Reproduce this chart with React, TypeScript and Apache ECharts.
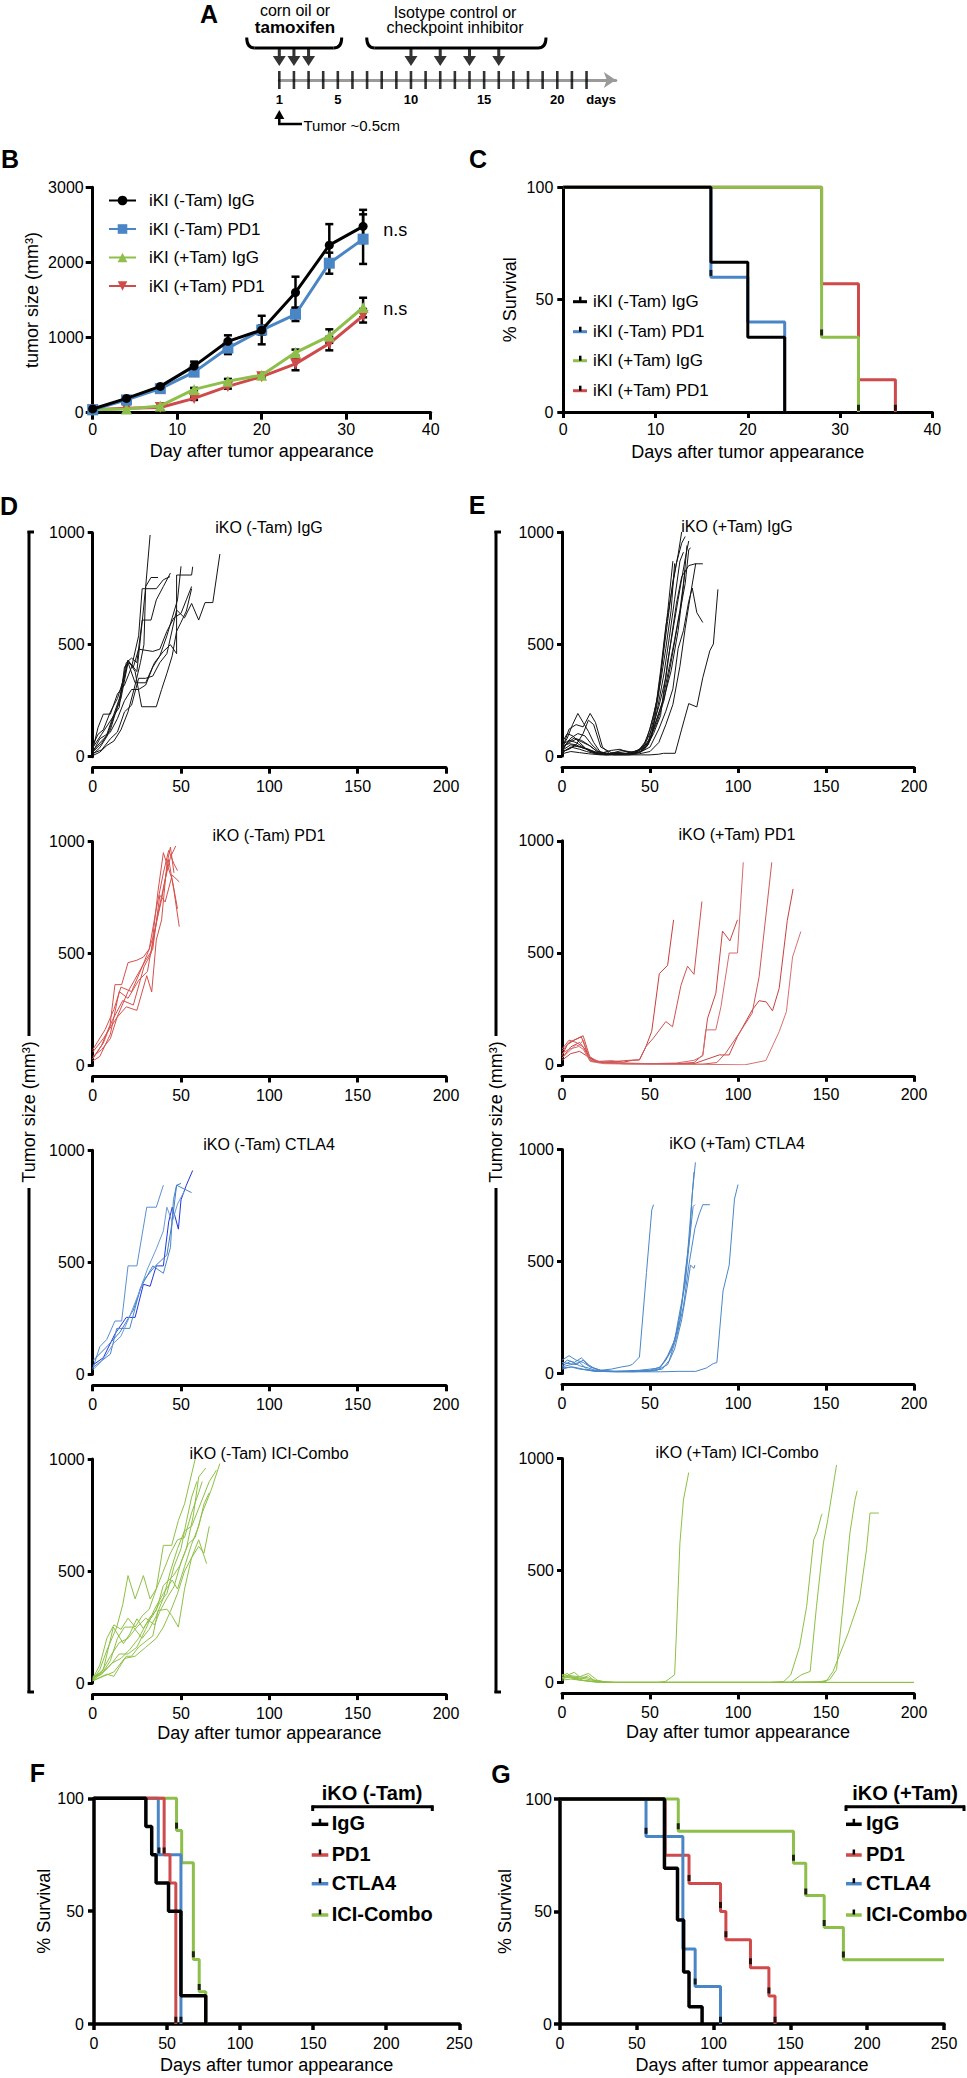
import React, { useEffect, useRef } from 'react';
import * as echarts from 'echarts';

const FONT = '"Liberation Sans", Arial, Helvetica, sans-serif';
const BLACK = '#000000';
const BLUE = '#4a86c6';
const GREEN = '#8dbf4a';
const RED = '#cf4a4a';

// ---------------- Panel A (schedule) ----------------
const timelineDays = [1, 2, 3, 4, 5, 6, 7, 8, 9, 10, 11, 12, 13, 14, 15, 16, 17, 18, 19, 20, 21, 22];
const timelineLabelDays = [1, 5, 10, 15, 20];
const tamoxifenDays = [1, 2, 3];
const antibodyDays = [10, 12, 14, 16];

// ---------------- Panel B (mean tumor size) ----------------
const bDays = [0, 4, 8, 12, 16, 20, 24, 28, 32];
const bLabels = ['iKI (-Tam) IgG', 'iKI (-Tam) PD1', 'iKI (+Tam) IgG', 'iKI (+Tam) PD1'];
const bNegIgG = [50, 190, 350, 620, 950, 1100, 1600, 2230, 2480];
const bNegIgGSem = [0, 20, 20, 60, 80, 190, 210, 280, 220];
const bNegPD1 = [40, 170, 320, 540, 860, 1100, 1310, 1990, 2310];
const bNegPD1Sem = [0, 20, 20, 40, 80, 60, 90, 140, 330];
const bPosIgG = [40, 50, 90, 310, 420, 500, 800, 1020, 1400];
const bPosIgGSem = [0, 0, 0, 20, 30, 20, 40, 90, 130];
const bPosPD1 = [40, 60, 70, 190, 350, 480, 650, 920, 1290];
const bPosPD1Sem = [0, 0, 0, 20, 30, 20, 85, 90, 90];

// ---------------- Panel C (survival) ----------------
const cNegIgG = [[0, 100], [16, 66.7], [20, 33.3], [24, 0]];
const cNegPD1 = [[0, 100], [16, 60], [20, 40], [24, 0]];
const cPosIgG = [[0, 100], [28, 33.3], [32, 0]];
const cPosPD1 = [[0, 100], [28, 57.1], [32, 14.3], [36, 0]];
const cCensor = [[16, 61], [28, 34.5], [32, 1], [36, 1]];

// ---------------- Panel D (iKO -Tam individual curves) ----------------
const dIgGCurves = [
  [[0, 10], [4, 40], [8, 90], [12, 180], [16, 260], [20, 420], [22, 410], [25, 380], [28, 600], [30, 760], [32.5, 990]],
  [[0, 30], [3, 130], [6, 190], [10, 190], [14, 280], [18, 320], [22, 400], [26, 540], [28, 750], [36, 750], [40, 790], [43.8, 804]],
  [[0, 20], [5, 60], [10, 120], [15, 250], [19, 420], [22, 440], [25, 420], [28, 610], [33, 610], [36, 700], [40, 760], [44, 820]],
  [[0, 40], [5, 100], [10, 160], [15, 220], [18, 400], [20, 420], [24, 330], [30, 330], [35, 420], [40, 470], [44, 500], [47.5, 460], [47.5, 811], [56, 811], [56.6, 848]],
  [[0, 15], [5, 30], [10, 80], [14, 110], [18, 200], [22, 230], [26, 350], [30, 350], [34, 360], [38, 420], [42, 460], [47.5, 655], [52, 620], [56, 684], [60, 610], [63.6, 688], [68, 688], [72, 905]],
  [[0, 20], [4, 80], [8, 100], [12, 190], [16, 280], [20, 431], [24, 380], [27.7, 223], [36, 223], [39, 300], [42, 372], [45, 450], [47.5, 560], [50, 600], [53, 650], [56, 750]],
  [[0, 50], [3, 100], [6, 120], [10, 200], [14, 260], [18, 360], [20, 430], [23, 400], [26, 480], [34, 470], [38, 480], [42, 560], [46, 620], [50, 640], [53, 700], [56, 760]],
  [[0, 5], [4, 20], [8, 50], [12, 70], [16, 120], [20, 200], [24, 320], [27, 420], [29, 500], [30, 760], [33, 800], [37, 800]],
  [[0, 25], [5, 70], [10, 110], [14, 170], [18, 250], [22, 300], [26, 300], [30, 320], [34, 400], [38, 450], [42, 540], [45, 620], [48, 700], [50, 850]],
];
const dPD1Curves = [
  [[0, 30], [5, 90], [9.8, 180], [12.6, 361], [16.4, 361], [20, 459], [25, 470], [28.7, 484], [32, 520], [34, 570], [37, 780], [40, 950], [42, 900], [44, 975], [46, 860]],
  [[0, 60], [6, 120], [13.6, 213], [19, 262], [25, 246], [30.6, 401], [33.4, 328], [36, 560], [39, 650], [42, 900], [45, 830], [48, 700]],
  [[0, 20], [4, 40], [10, 140], [15, 330], [20, 300], [26, 380], [31, 420], [35, 600], [39, 740], [43, 920], [46, 780], [49, 620]],
  [[0, 70], [7, 160], [12, 250], [16, 350], [22, 330], [28, 440], [32, 520], [36, 700], [40, 860], [43, 960], [46, 900], [48, 870]],
  [[0, 40], [5, 70], [10, 120], [14, 220], [20, 330], [25, 400], [30, 470], [34, 520], [38, 760], [41, 730], [45, 850], [49, 820]],
  [[0, 30], [6, 100], [11, 200], [17, 290], [23, 270], [29, 440], [33, 500], [37, 680], [41, 830], [44, 930], [47, 980]],
];
const dCTLA4Curves = [
  [[0, 25], [4, 123], [8, 156], [12.6, 238], [16.4, 238], [20, 484], [25, 484], [30.6, 746], [36, 746], [40, 844]],
  [[0, 41], [6, 74], [12.6, 180], [19, 254], [24, 254], [28.7, 402], [32.5, 393], [36, 484], [40, 484], [43, 680], [45, 746], [46.6, 705], [48.5, 648], [50, 779], [53, 844], [56.6, 910]],
  [[0, 30], [5, 60], [10, 90], [13.6, 205], [21, 205], [27, 385], [34, 484], [40, 451], [44, 566], [45.7, 779], [47.5, 844], [56, 811]],
  [[0, 60], [8, 123], [15.5, 189], [23, 287], [28.7, 418], [35, 480], [42, 533], [45, 680], [47.5, 844], [50, 852]],
  [[0, 20], [4, 50], [8, 90], [12, 140], [16, 170], [21, 260], [26, 360], [31, 470], [36, 560], [40, 640], [42, 746], [45, 680], [48, 760], [52, 820]],
];
const dComboCurves = [
  [[0, 15], [4, 60], [8, 146], [13.6, 250], [17, 350], [20, 480], [24, 376], [28.7, 480], [32.5, 376], [36, 421], [40, 615], [44.7, 615], [48.5, 726], [52, 800], [55, 900], [58, 1000]],
  [[0, 20], [6, 60], [11.7, 250], [17.4, 176], [21, 220], [25, 287], [28.7, 243], [32.5, 295], [36, 324], [40, 436], [45.7, 480], [49.4, 525], [53, 600], [57, 750], [60, 920], [64, 960]],
  [[0, 10], [8, 40], [12, 30], [15, 70], [19, 120], [22, 120], [26, 161], [30.6, 190], [34, 210], [37, 324], [42, 330], [44.7, 302], [48.5, 250], [52, 420], [56, 560], [60, 640], [64.5, 533]],
  [[0, 25], [5, 40], [10, 100], [14, 200], [18, 250], [23, 250], [28, 200], [32, 240], [36, 300], [40, 380], [44, 500], [48, 600], [52, 680], [56, 700], [60, 780], [66, 900], [70, 950]],
  [[0, 10], [5, 50], [10, 120], [15, 180], [20, 200], [25, 250], [30, 290], [35, 260], [38, 320], [42, 380], [46, 430], [50, 540], [54, 620], [58, 650], [62, 760], [67, 860], [72, 980]],
  [[0, 30], [6, 50], [11, 90], [16, 110], [21, 150], [26, 200], [30, 260], [34, 300], [38, 360], [42, 400], [46, 520], [50, 600], [53, 720], [56, 830], [59, 900]],
  [[0, 15], [5, 40], [10, 80], [15, 130], [20, 130], [25, 160], [30, 240], [35, 330], [40, 400], [45, 460], [48, 420], [52, 520], [56, 620], [60, 700], [63, 800], [66, 850]],
  [[0, 20], [4, 80], [8, 200], [12, 260], [16, 240], [20, 290], [24, 250], [28, 300], [32, 330], [36, 420], [40, 500], [44, 580], [48, 640], [52, 650], [56, 760], [60, 850], [62, 900]],
  [[0, 10], [6, 30], [12, 50], [18, 110], [24, 120], [30, 160], [36, 200], [40, 250], [44, 320], [48, 400], [52, 500], [56, 560], [60, 610], [63, 580], [66, 700]],
];

// ---------------- Panel E (iKO +Tam individual curves) ----------------
const eIgGCurves = [
  [[0, 40], [3, 80], [6, 140], [9, 190], [12, 150], [15, 110], [18, 60], [22, 15], [28, 8], [35, 10], [42, 15], [46, 40], [50, 120], [54, 250], [57, 420], [60, 600], [63, 780], [66, 900], [68, 1000]],
  [[0, 30], [4, 120], [8, 140], [12, 130], [16, 190], [19, 150], [23, 40], [27, 10], [33, 8], [40, 10], [45, 20], [49, 60], [53, 200], [56, 380], [59, 580], [62, 720], [65, 860], [68, 950], [70, 980]],
  [[0, 20], [3, 60], [7, 80], [11, 70], [15, 50], [20, 20], [26, 10], [32, 15], [37, 20], [42, 10], [47, 30], [51, 90], [55, 280], [58, 500], [60, 640], [63, 870]],
  [[0, 50], [4, 70], [8, 60], [12, 40], [16, 20], [21, 10], [28, 25], [33, 30], [38, 15], [43, 20], [48, 40], [52, 100], [56, 180], [60, 420], [63, 560], [66, 700], [70, 880], [72, 960]],
  [[0, 15], [5, 40], [10, 30], [14, 20], [19, 10], [25, 5], [31, 15], [37, 10], [43, 25], [49, 60], [54, 150], [58, 250], [62, 420], [66, 600], [70, 770], [72, 920], [73, 930]],
  [[0, 60], [3, 100], [6, 90], [10, 60], [14, 30], [18, 15], [24, 10], [30, 5], [36, 10], [42, 15], [47, 50], [51, 120], [55, 220], [59, 350], [62, 520], [65, 680], [68, 800], [72, 850], [75.7, 858], [80, 858]],
  [[0, 25], [5, 50], [10, 40], [15, 30], [20, 10], [26, 5], [32, 8], [38, 12], [44, 15], [50, 40], [55, 120], [59, 200], [63, 300], [66, 480], [69, 560], [72, 690], [74, 750], [76.6, 640], [80, 596]],
  [[0, 10], [5, 20], [10, 15], [15, 10], [22, 5], [30, 5], [38, 5], [45, 5], [50, 5], [55, 8], [57.7, 12], [64.3, 12], [68, 120], [72, 234], [76.6, 219], [80, 350], [84, 470], [86, 500], [88.6, 744]],
  [[0, 35], [4, 60], [8, 75], [12, 60], [16, 45], [20, 20], [26, 10], [32, 12], [38, 10], [44, 30], [48, 70], [52, 180], [56, 330], [59, 480], [62, 650], [64, 860]],
  [[0, 20], [4, 30], [8, 50], [12, 100], [15, 160], [18, 140], [22, 40], [28, 15], [34, 10], [40, 15], [46, 35], [50, 80], [54, 170], [58, 260], [62, 380], [66, 560], [69, 760], [71, 940]],
  [[0, 45], [4, 55], [8, 50], [12, 35], [16, 25], [22, 10], [28, 12], [34, 25], [38, 20], [44, 15], [49, 50], [53, 140], [57, 240], [61, 400], [64, 520], [67, 650], [70, 830]],
  [[0, 30], [5, 80], [9, 100], [13, 90], [17, 50], [21, 20], [27, 10], [33, 10], [39, 8], [45, 20], [50, 70], [54, 200], [58, 370], [61, 530], [64, 700], [67, 870], [69, 910]],
  [[0, 15], [3, 30], [7, 45], [11, 40], [15, 30], [20, 15], [26, 8], [32, 5], [38, 5], [44, 10], [50, 20], [55, 60], [59, 140], [63, 230], [67, 400], [70, 570], [73, 720], [76, 860]],
];
const ePD1Curves = [
  [[0, 40], [3, 90], [7, 110], [11, 125], [15, 40], [20, 15], [28, 18], [35, 12], [40, 20], [44, 22], [47.7, 81], [51, 150], [55.3, 407], [60, 444], [63.4, 647]],
  [[0, 60], [4, 100], [8, 115], [12, 130], [16, 30], [22, 12], [30, 15], [38, 20], [44, 22], [47.7, 81], [52, 120], [59, 193], [62.8, 170], [67.6, 355], [71.3, 440], [75, 404], [79.5, 729]],
  [[0, 30], [5, 80], [10, 100], [13, 70], [17, 15], [24, 10], [35, 8], [50, 5], [65, 5], [75, 10], [80, 44], [82.7, 207], [87.4, 319], [91.2, 597], [95.4, 553], [99.7, 647]],
  [[0, 50], [4, 70], [9, 80], [12, 110], [16, 30], [22, 10], [35, 5], [50, 5], [65, 8], [75, 20], [80, 40], [81.7, 156], [87.4, 156], [90.3, 259], [95, 499], [99.7, 499], [103, 904]],
  [[0, 20], [5, 50], [10, 60], [14, 40], [20, 10], [35, 5], [55, 5], [75, 5], [89.3, 44], [95, 44], [99.7, 126], [108, 244], [112, 286], [116, 281], [119.6, 241], [123.4, 341], [128, 644], [131.3, 785]],
  [[0, 70], [4, 110], [8, 100], [12, 80], [16, 20], [24, 10], [40, 5], [60, 3], [80, 3], [88, 10], [93, 52], [100.7, 141], [108, 230], [112, 393], [119.2, 904]],
  [[0, 30], [4, 60], [8, 90], [12, 70], [16, 15], [24, 5], [40, 3], [60, 3], [80, 2], [104, 0], [115.8, 19], [123.4, 148], [127.5, 237], [131, 481], [135.7, 595]],
];
const eCTLA4Curves = [
  [[0, 60], [4, 80], [8, 60], [12, 50], [16, 30], [22, 15], [28, 20], [34, 30], [38, 35], [40, 41], [44, 74], [48, 451], [51, 730], [52, 754]],
  [[0, 40], [3, 60], [7, 50], [11, 70], [15, 40], [20, 15], [28, 10], [36, 12], [44, 15], [50, 20], [55, 25], [59, 60], [63, 123], [67, 238], [70, 451], [72.6, 615], [74, 800], [75.8, 943]],
  [[0, 30], [5, 40], [10, 50], [14, 20], [20, 10], [30, 8], [40, 10], [50, 15], [56, 30], [60, 80], [64, 150], [67, 280], [70, 400], [72, 560], [74.5, 746], [75.5, 754]],
  [[0, 20], [5, 30], [10, 20], [15, 15], [22, 10], [32, 8], [42, 10], [52, 15], [57, 20], [61, 60], [65, 160], [69, 300], [72, 480], [75.5, 648], [78, 713], [80, 754], [84, 754]],
  [[0, 50], [4, 45], [8, 40], [12, 60], [16, 30], [22, 15], [30, 10], [40, 12], [48, 10], [54, 15], [60, 40], [64, 110], [68, 240], [71, 380], [73, 484], [75, 470], [75.5, 484]],
  [[0, 25], [6, 30], [12, 20], [18, 10], [26, 10], [36, 8], [46, 8], [56, 8], [66, 10], [76, 10], [82, 25], [86, 45], [88, 49], [91.5, 369], [95, 484], [98, 779], [100, 844]],
  [[0, 35], [5, 55], [10, 35], [15, 25], [20, 12], [30, 10], [40, 8], [50, 12], [55, 20], [58, 50], [62, 100], [65, 180], [68, 300], [71, 500], [73, 700], [75, 900]],
];
const eComboCurves = [
  [[0, 30], [3, 40], [6, 20], [10, 10], [15, 5], [20, 0], [30, 0], [40, 0], [50, 0], [55, 0], [59, 5], [64, 34], [65, 220], [67, 622], [69, 815], [72, 937]],
  [[0, 20], [4, 35], [7, 45], [10, 25], [15, 20], [20, 5], [30, 0], [60, 0], [90, 0], [118, 0], [126, 4], [130, 34], [135, 160], [139, 339], [143, 637], [145, 674], [147.5, 749], [148, 753]],
  [[0, 25], [5, 20], [10, 15], [15, 30], [18, 10], [25, 0], [60, 0], [100, 0], [130, 0], [136, 34], [141, 49], [144.6, 339], [148.5, 622], [151, 726], [156, 971]],
  [[0, 15], [4, 25], [8, 20], [12, 10], [17, 5], [25, 0], [60, 0], [100, 0], [145, 0], [152, 12], [156, 57], [160, 369], [163.6, 667], [166.5, 815], [167.7, 855]],
  [[0, 35], [3, 30], [6, 25], [10, 20], [14, 15], [20, 5], [30, 0], [70, 0], [120, 0], [150, 4], [154, 49], [162.6, 220], [169, 369], [173, 592], [175, 756], [180, 756]],
  [[0, 10], [5, 15], [10, 10], [16, 5], [24, 0], [60, 0], [120, 0], [200, 0]],
  [[0, 20], [5, 30], [10, 25], [15, 40], [20, 10], [26, 0], [80, 0], [140, 0], [200, 0]],
];

// ---------------- Panel F (survival, iKO -Tam) ----------------
const fLegendLabels = ['IgG', 'PD1', 'CTLA4', 'ICI-Combo'];
const fIgG = [[0, 100], [35.5, 87.5], [39.5, 75], [42.5, 62.5], [51, 50], [59.5, 12.5], [76.5, 0]];
const fPD1 = [[0, 100], [48, 75], [52, 62.5], [56, 0]];
const fCTLA4 = [[0, 100], [44, 75], [59.5, 0]];
const fCombo = [[0, 100], [56.5, 85.7], [60, 71.4], [68, 28.6], [72, 14.3], [76.5, 0]];
const fCensor = [[44.5, 76], [48, 76], [56.5, 87], [68, 30], [72, 15.5], [56, 1], [59.5, 1]];

// ---------------- Panel G (survival, iKO +Tam) ----------------
const gIgG = [[0, 100], [68, 69.2], [76.5, 46.2], [80.5, 23.1], [84, 7.7], [92.5, 0]];
const gCTLA4 = [[0, 100], [56, 83.3], [80, 33.3], [88, 16.7], [104.5, 0]];
const gPD1 = [[0, 100], [68.5, 75], [84, 62.5], [104.5, 50], [108, 37.5], [124, 25], [136, 12.5], [140, 0]];
const gCombo = [[0, 100], [77, 85.7], [152, 71.4], [160, 57.1], [172, 42.9], [184.5, 28.6], [250, 28.6]];
const gCensor = [[56, 85], [77, 87], [84, 64], [88, 18], [104.5, 52], [108, 39], [124, 27], [136, 14], [152, 73], [160, 58], [172, 44], [184.5, 30], [104.5, 1], [140, 1]];

// ---------------- option helpers ----------------
const plain = (v: number) => String(v);

function axisBase(gridIndex: number, lineWidth = 3): any {
  return {
    gridIndex,
    type: 'value',
    axisLine: { show: true, onZero: false, lineStyle: { color: '#000', width: lineWidth } },
    axisTick: { show: true, length: 6, lineStyle: { color: '#000', width: lineWidth } },
    axisLabel: { color: '#000', fontSize: 16, fontFamily: FONT, formatter: plain },
    splitLine: { show: false },
    nameTextStyle: { color: '#000', fontSize: 18, fontFamily: FONT },
  };
}

function lbl(margin: number): any {
  return { color: '#000', fontSize: 16, fontFamily: FONT, margin, formatter: plain };
}

function txt(text: string, x: number, y: number, opts: any = {}): any {
  return {
    type: 'text',
    x,
    y,
    rotation: opts.rotation || 0,
    silent: true,
    style: {
      text,
      fill: '#000',
      fontSize: opts.size || 16,
      fontWeight: opts.bold ? 'bold' : 'normal',
      fontFamily: FONT,
      align: opts.align || 'center',
      verticalAlign: 'middle',
    },
  };
}

function seg(x1: number, y1: number, x2: number, y2: number, color = '#000', w = 3): any {
  return { type: 'line', silent: true, shape: { x1, y1, x2, y2 }, style: { stroke: color, lineWidth: w } };
}

function brace(x0: number, x1: number): any[] {
  const top = 37.5;
  const bot = 48;
  const r = 8;
  const st = { stroke: '#000', lineWidth: 3, fill: 'none' };
  return [
    { type: 'bezierCurve', silent: true, shape: { x1: x0, y1: top, cpx1: x0, cpy1: bot, x2: x0 + r, y2: bot }, style: st },
    seg(x0 + r, bot, x1 - r, bot),
    { type: 'bezierCurve', silent: true, shape: { x1: x1 - r, y1: bot, cpx1: x1, cpy1: bot, x2: x1, y2: top }, style: st },
  ];
}

function buildOption(): any {
  const grids: any[] = [
    { left: 279.3, top: 40, width: 336.5, height: 40 },
    { left: 92.7, top: 187.3, width: 338, height: 225.4 },
    { left: 563.3, top: 187.3, width: 369, height: 224.7 },
  ];
  for (let i = 0; i < 4; i++) grids.push({ left: 92.7, top: 532.7 + i * 308.8, width: 353.3, height: 224 });
  for (let i = 0; i < 4; i++) grids.push({ left: 562, top: 532 + i * 308.8, width: 352, height: 224 });
  grids.push({ left: 94, top: 1798.3, width: 365.3, height: 225.7 });
  grids.push({ left: 560, top: 1799, width: 384, height: 225 });

  const xAxis: any[] = [];
  const yAxis: any[] = [];

  // A
  xAxis.push({
    gridIndex: 0,
    type: 'value',
    min: 1,
    max: 24,
    interval: 1,
    axisLine: { show: true, onZero: false, symbol: ['none', 'arrow'], symbolSize: [12, 12], lineStyle: { color: '#9a9a9a', width: 3 } },
    axisTick: { show: false },
    splitLine: { show: false },
    axisLabel: {
      color: '#000',
      fontSize: 13,
      fontWeight: 'bold',
      fontFamily: FONT,
      margin: 13,
      formatter: (v: number) => (timelineLabelDays.indexOf(v) >= 0 ? String(v) : v === 23 ? 'days' : ''),
    },
  });
  yAxis.push({ gridIndex: 0, type: 'value', min: 0, max: 1, show: false });

  // B
  xAxis.push({
    ...axisBase(1),
    min: 0, max: 40, interval: 10,
    axisTick: { show: true, length: 7, lineStyle: { color: '#000', width: 3 } },
    axisLabel: lbl(9),
    name: 'Day after tumor appearance', nameLocation: 'middle', nameGap: 29,
  });
  yAxis.push({
    ...axisBase(1),
    min: 0, max: 3000, interval: 1000,
    axisTick: { show: true, length: 7, lineStyle: { color: '#000', width: 3 } },
    axisLabel: lbl(9),
    name: 'tumor size (mm³)', nameLocation: 'middle', nameRotate: 90, nameGap: 52,
  });

  // C
  xAxis.push({
    ...axisBase(2),
    min: 0, max: 40, interval: 10,
    axisLabel: lbl(9),
    name: 'Days after tumor appearance', nameLocation: 'middle', nameGap: 31,
  });
  yAxis.push({
    ...axisBase(2),
    min: 0, max: 100, interval: 50,
    axisLabel: lbl(10),
    name: '% Survival', nameLocation: 'middle', nameRotate: 90, nameGap: 44,
  });

  // D & E
  for (let g = 3; g <= 10; g++) {
    const isBottom = g === 6 || g === 10;
    xAxis.push({
      ...axisBase(g),
      min: 0, max: 200, interval: 50, offset: 11,
      axisLabel: lbl(11),
      name: isBottom ? 'Day after tumor appearance' : '',
      nameLocation: 'middle', nameGap: 30,
    });
    yAxis.push({
      ...axisBase(g),
      min: 0, max: 1000, interval: 500,
      axisTick: { show: true, length: 5, lineStyle: { color: '#000', width: 3 } },
      axisLabel: lbl(8),
    });
  }

  // F & G
  for (const g of [11, 12]) {
    xAxis.push({
      ...axisBase(g, 3.5),
      min: 0, max: 250, interval: 50,
      axisLabel: lbl(11),
      name: 'Days after tumor appearance', nameLocation: 'middle', nameGap: 32,
    });
    yAxis.push({
      ...axisBase(g, 3.5),
      min: 0, max: 100, interval: 50,
      axisLabel: lbl(g === 11 ? 10 : 8),
      name: '% Survival', nameLocation: 'middle', nameRotate: 90, nameGap: g === 11 ? 41 : 46,
    });
  }

  const series: any[] = [];

  // ----- A -----
  series.push({
    type: 'scatter', xAxisIndex: 0, yAxisIndex: 0, silent: true, z: 5,
    data: timelineDays.map((d) => [d, 0]),
    symbol: 'rect', symbolSize: [2.6, 18], itemStyle: { color: '#000' },
  });
  series.push({
    type: 'scatter', xAxisIndex: 0, yAxisIndex: 0, silent: true, z: 5,
    data: tamoxifenDays.concat(antibodyDays).map((d) => [d, 0.56]),
    symbol: 'path://M4.6,0L7.4,0L7.4,6L12,6L6,15L0,6L4.6,6Z', symbolSize: [13, 17], itemStyle: { color: '#000' },
  });

  // ----- B -----
  const bDefs = [
    { name: bLabels[3], vals: bPosPD1, sem: bPosPD1Sem, color: RED, symbol: 'triangle', rot: 180 },
    { name: bLabels[2], vals: bPosIgG, sem: bPosIgGSem, color: GREEN, symbol: 'triangle', rot: 0 },
    { name: bLabels[1], vals: bNegPD1, sem: bNegPD1Sem, color: BLUE, symbol: 'rect', rot: 0 },
    { name: bLabels[0], vals: bNegIgG, sem: bNegIgGSem, color: BLACK, symbol: 'circle', rot: 0 },
  ];
  bDefs.forEach((d, k) => {
    series.push({
      type: 'custom', xAxisIndex: 1, yAxisIndex: 1, silent: true, z: 2 + k,
      data: bDays.map((x, i) => [x, d.vals[i] - d.sem[i], d.vals[i] + d.sem[i], d.sem[i]]).filter((r) => r[3] > 0),
      encode: { x: 0, y: [1, 2] },
      renderItem: (params: any, api: any) => {
        const x = api.value(0);
        const lo = api.coord([x, api.value(1)]);
        const hi = api.coord([x, api.value(2)]);
        const w = 4;
        const st = { stroke: '#000', lineWidth: 2.5 };
        return {
          type: 'group',
          children: [
            { type: 'line', shape: { x1: lo[0], y1: lo[1], x2: hi[0], y2: hi[1] }, style: st },
            { type: 'line', shape: { x1: lo[0] - w, y1: lo[1], x2: lo[0] + w, y2: lo[1] }, style: st },
            { type: 'line', shape: { x1: hi[0] - w, y1: hi[1], x2: hi[0] + w, y2: hi[1] }, style: st },
          ],
        };
      },
    });
    series.push({
      type: 'line', name: d.name, xAxisIndex: 1, yAxisIndex: 1, z: 10 + k,
      data: bDays.map((x, i) => [x, d.vals[i]]),
      symbol: d.symbol, symbolRotate: d.rot, symbolSize: d.symbol === 'circle' ? 9 : 11, showSymbol: true,
      lineStyle: { color: d.color, width: 3 }, itemStyle: { color: d.color },
    });
  });

  // ----- survival helper -----
  const surv = (g: number, data: number[][], color: string, width: number, z: number) => ({
    type: 'line', xAxisIndex: g, yAxisIndex: g, data, step: 'end', symbol: 'none', silent: true, z,
    lineStyle: { color, width }, clip: false,
  });
  const censor = (g: number, data: number[][]) => ({
    type: 'scatter', xAxisIndex: g, yAxisIndex: g, data, symbol: 'rect', symbolSize: [3, 6], symbolOffset: [0, -2],
    itemStyle: { color: '#000' }, silent: true, z: 20, clip: false,
  });

  // ----- C -----
  series.push(surv(2, cNegPD1, BLUE, 3, 3));
  series.push(surv(2, cPosPD1, RED, 3, 4));
  series.push(surv(2, cPosIgG, GREEN, 3, 5));
  series.push(surv(2, cNegIgG, BLACK, 3, 6));
  series.push(censor(2, cCensor));

  // ----- D & E spaghetti -----
  const addCurves = (g: number, curves: number[][][], colors: string[] | string) => {
    curves.forEach((c, i) => {
      const color = Array.isArray(colors) ? colors[i % colors.length] : colors;
      series.push({
        type: 'line', xAxisIndex: g, yAxisIndex: g, data: c, symbol: 'none', silent: true, z: 3,
        lineStyle: { color, width: 1 },
      });
    });
  };
  addCurves(3, dIgGCurves, '#151515');
  addCurves(4, dPD1Curves, '#d6504c');
  addCurves(5, dCTLA4Curves, ['#5b8fd0', '#2035e0', '#4a86c8', '#3d7cc9', '#6a9ad6']);
  addCurves(6, dComboCurves, '#8dc044');
  addCurves(7, eIgGCurves, '#151515');
  addCurves(8, ePD1Curves, ['#c93c3c', '#d05050', '#cc4444', '#d66a6a', '#c94040', '#d35555', '#d87070']);
  addCurves(9, eCTLA4Curves, '#4a86c8');
  addCurves(10, eComboCurves, '#8dc044');

  // ----- F -----
  series.push(surv(11, fCombo, GREEN, 3, 3));
  series.push(surv(11, fCTLA4, BLUE, 3, 4));
  series.push(surv(11, fPD1, RED, 3, 5));
  series.push(surv(11, fIgG, BLACK, 3.5, 6));
  series.push(censor(11, fCensor));

  // ----- G -----
  series.push(surv(12, gPD1, RED, 3, 3));
  series.push(surv(12, gCTLA4, BLUE, 3, 4));
  series.push(surv(12, gCombo, GREEN, 3, 5));
  series.push(surv(12, gIgG, BLACK, 3.5, 6));
  series.push(censor(12, gCensor));

  // ----- graphics -----
  const graphic: any[] = [];
  const letters: [string, number, number][] = [
    ['A', 209, 14], ['B', 10, 159], ['C', 478, 159], ['D', 9, 506], ['E', 477, 505], ['F', 37.5, 1773], ['G', 501, 1774],
  ];
  letters.forEach(([t, x, y]) => graphic.push(txt(t, x, y, { size: 25, bold: true })));

  // Panel A annotations
  graphic.push(txt('corn oil or', 295, 10, { size: 16 }));
  graphic.push(txt('tamoxifen', 295, 27, { size: 17, bold: true }));
  graphic.push(txt('Isotype control or', 455, 12, { size: 16 }));
  graphic.push(txt('checkpoint inhibitor', 455, 27.5, { size: 16 }));
  graphic.push(...brace(246.7, 341.7));
  graphic.push(...brace(366.7, 546));
  graphic.push({
    type: 'polyline', silent: true,
    shape: { points: [[302, 124], [279.3, 124], [279.3, 117]] },
    style: { stroke: '#000', lineWidth: 2.5, fill: 'none' },
  });
  graphic.push({
    type: 'polygon', silent: true,
    shape: { points: [[279.3, 110], [274.3, 119], [284.3, 119]] },
    style: { fill: '#000' },
  });
  graphic.push(txt('Tumor ~0.5cm', 303.5, 125, { size: 15, align: 'left' }));

  // Panel B annotations
  graphic.push(txt('n.s', 383.3, 230, { size: 18, align: 'left' }));
  graphic.push(txt('n.s', 383.3, 309, { size: 18, align: 'left' }));

  // Panel C legend
  const cColors = [BLACK, BLUE, GREEN, RED];
  const cRows = [301.7, 331.7, 360.7, 390.7];
  cRows.forEach((y, i) => {
    graphic.push(seg(573, y, 587, y, cColors[i], 3));
    graphic.push({ type: 'rect', silent: true, shape: { x: 579, y: y - 5, width: 2.5, height: 5 }, style: { fill: '#000' } });
    graphic.push(txt(bLabels[i], 593, y, { size: 17, align: 'left' }));
  });

  // D / E titles
  const dTitles = ['iKO (-Tam) IgG', 'iKO (-Tam) PD1', 'iKO (-Tam) CTLA4', 'iKO (-Tam) ICI-Combo'];
  const eTitles = ['iKO (+Tam) IgG', 'iKO (+Tam) PD1', 'iKO (+Tam) CTLA4', 'iKO (+Tam) ICI-Combo'];
  dTitles.forEach((t, i) => graphic.push(txt(t, 269, 527 + i * 308.8, { size: 16 })));
  eTitles.forEach((t, i) => graphic.push(txt(t, 737, 526 + i * 308.8, { size: 16 })));

  // D / E brackets with shared y title
  for (const bx of [29, 496]) {
    graphic.push(seg(bx, 531, bx, 1036));
    graphic.push(seg(bx, 1188, bx, 1693));
    graphic.push(seg(bx - 1.5, 532, bx + 5, 532));
    graphic.push(seg(bx - 1.5, 1692, bx + 5, 1692));
    graphic.push(txt('Tumor size (mm³)', bx, 1112, { size: 18, rotation: Math.PI / 2 }));
  }

  // F / G legends
  const fgColors = [BLACK, RED, BLUE, GREEN];
  const fgRows = [1823.3, 1854, 1882.7, 1914];
  const legendBlock = (title: string, titleX: number, lx0: number, lx1: number, ix0: number, ix1: number, tx: number) => {
    graphic.push(txt(title, titleX, 1793.3, { size: 20, bold: true }));
    graphic.push(seg(lx0, 1806.7, lx1, 1806.7));
    graphic.push(seg(lx0 + 1, 1805.5, lx0 + 1, 1811));
    graphic.push(seg(lx1 - 1, 1805.5, lx1 - 1, 1811));
    fgRows.forEach((y, i) => {
      graphic.push(seg(ix0, y + 1, ix1, y + 1, fgColors[i], 3.5));
      graphic.push({ type: 'rect', silent: true, shape: { x: (ix0 + ix1) / 2 - 1.25, y: y - 4.5, width: 2.5, height: 5 }, style: { fill: '#000' } });
      graphic.push(txt(fLegendLabels[i], tx, y, { size: 20, bold: true, align: 'left' }));
    });
  };
  legendBlock('iKO (-Tam)', 372, 311.7, 433.3, 311.7, 328.3, 331.7);
  legendBlock('iKO (+Tam)', 905, 845, 965, 846, 861.7, 866);

  return {
    animation: false,
    backgroundColor: '#ffffff',
    textStyle: { fontFamily: FONT },
    grid: grids,
    xAxis,
    yAxis,
    legend: [
      {
        data: bLabels,
        orient: 'vertical',
        left: 108,
        top: 192,
        padding: 0,
        itemWidth: 27,
        itemHeight: 12,
        itemGap: 11.5,
        selectedMode: false,
        textStyle: { fontSize: 17, color: '#000', fontFamily: FONT, padding: [0, 0, 0, 8] },
      },
    ],
    series,
    graphic,
  };
}

export default function App() {
  const ref = useRef<HTMLDivElement>(null);
  useEffect(() => {
    if (!ref.current) return;
    const chart = echarts.init(ref.current, undefined, { renderer: 'svg' });
    chart.setOption(buildOption());
    return () => {
      chart.dispose();
    };
  }, []);
  return (
    <div
      ref={ref}
      style={{ position: 'absolute', left: 0, top: 0, width: 967, height: 2078, background: '#ffffff' }}
    />
  );
}
